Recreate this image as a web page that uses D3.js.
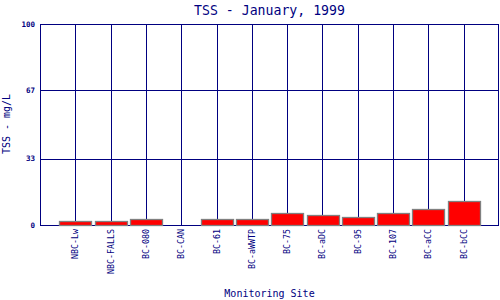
<!DOCTYPE html>
<html>
<head>
<meta charset="utf-8">
<script src="https://cdn.jsdelivr.net/npm/d3@7"></script>
<style>
  body { margin: 0; background: #fff; }
  text { font-family: "DejaVu Sans Mono", "Liberation Mono", monospace; fill: #000080; }
</style>
</head>
<body>
<svg id="chart" width="500" height="300"></svg>
<script>
// site names and TSS readings (mg/L)
const sites = ["NBC-Lw", "NBC-FALLS", "BC-080", "BC-CAN", "BC-61", "BC-aWWTP",
    "BC-75", "BC-aDC", "BC-95", "BC-107", "BC-aCC", "BC-bCC"];
const tss = [2, 2, 3, 0, 3, 3, 6, 5, 4, 6, 8, 12];
const yTicks = [0, 33, 67, 100];

const navy = "#000080";
let svg = d3.select("#chart");
let plotL = 40, plotR = 499, plotT = 24, plotB = 225;

let x = d3.scalePoint().domain(sites).range([plotL, plotR]).padding(1);
let y = d3.scaleLinear().domain([0, 100]).range([plotB, plotT]);
let barW = x.step() * 0.9;

// horizontal grid
svg.append("g").selectAll("line")
    .data(yTicks)
    .enter().append("line")
    .attr("x1", plotL).attr("x2", plotR)
    .attr("y1", d => Math.round(y(d)) + 0.5).attr("y2", d => Math.round(y(d)) + 0.5)
    .attr("stroke", navy).attr("stroke-width", 1);

// vertical grid at each site
svg.append("g").selectAll("line")
    .data(sites)
    .enter().append("line")
    .attr("x1", d => Math.round(x(d)) + 0.5).attr("x2", d => Math.round(x(d)) + 0.5)
    .attr("y1", plotT).attr("y2", plotB)
    .attr("stroke", navy).attr("stroke-width", 1);

// frame sides
svg.append("line").attr("x1", plotL + 0.5).attr("x2", plotL + 0.5)
    .attr("y1", plotT).attr("y2", plotB + 0.5).attr("stroke", navy);
svg.append("line").attr("x1", plotR - 0.5).attr("x2", plotR - 0.5)
    .attr("y1", plotT).attr("y2", plotB + 0.5).attr("stroke", navy);

// bars
svg.append("g").selectAll("rect")
    .data(sites)
    .enter().append("rect")
    .attr("x", d => Math.round(x(d) - barW / 2) + 0.5)
    .attr("width", Math.round(barW))
    .attr("y", (d, i) => Math.round(y(tss[i])) + 0.5)
    .attr("height", (d, i) => plotB - Math.round(y(tss[i])))
    .attr("fill", "#ff0000")
    .attr("stroke", "#808080")
    .attr("stroke-width", 1.3);

// y tick labels
svg.append("g").selectAll("text")
    .data(yTicks)
    .enter().append("text")
    .attr("x", 35).attr("y", d => y(d) + 2.5)
    .attr("text-anchor", "end")
    .style("font-size", "7.5px").style("font-weight", "bold")
    .text(d => d);

// x tick labels, rotated
svg.append("g").selectAll("text")
    .data(sites)
    .enter().append("text")
    .attr("transform", d => "translate(" + (x(d) + 3) + "," + 229 + ") rotate(-90)")
    .attr("text-anchor", "end")
    .style("font-size", "8.3px")
    .text(d => d);

// title and axis labels
svg.append("text").attr("x", (plotL + plotR) / 2).attr("y", 15)
    .attr("text-anchor", "middle").style("font-size", "13.2px")
    .text("TSS - January, 1999");
svg.append("text").attr("x", (plotL + plotR) / 2).attr("y", 297)
    .attr("text-anchor", "middle").style("font-size", "10px")
    .text("Monitoring Site");
svg.append("text").attr("transform", "translate(10,124) rotate(-90)")
    .attr("text-anchor", "middle").style("font-size", "10px")
    .text("TSS - mg/L");
</script>
</body>
</html>
